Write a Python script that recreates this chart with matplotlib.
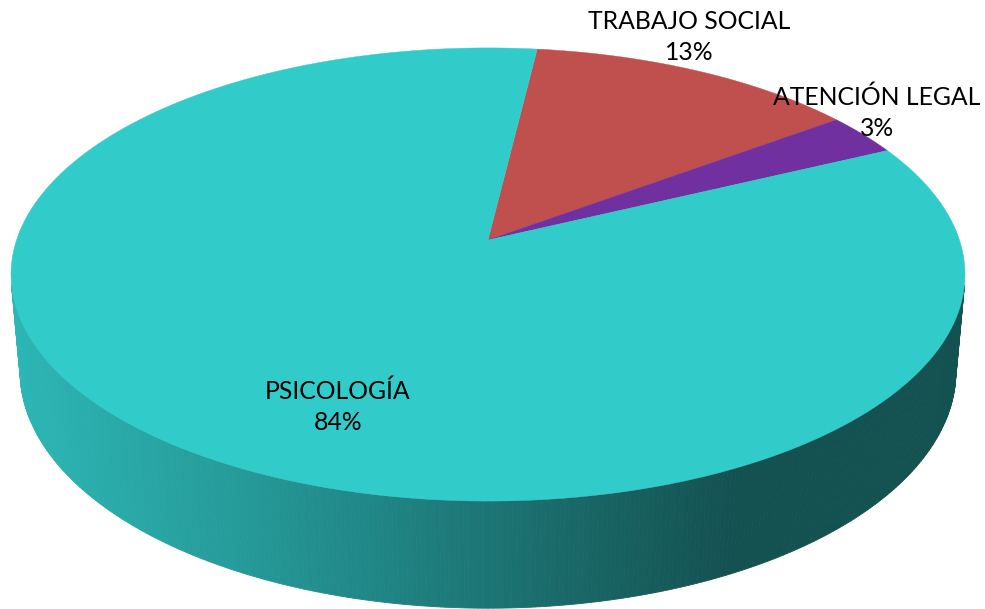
import numpy as np
import matplotlib
matplotlib.use('Agg')
import matplotlib.pyplot as plt
from matplotlib.patches import Polygon
from matplotlib.colors import to_rgb

categories = ['TRABAJO SOCIAL', 'ATENCIÓN LEGAL', 'PSICOLOGÍA']
values = [13, 3, 84]
colors = ['#C0504D', '#7030A0', '#31CBCA']
label_pos = [(689, 37), (877, 113), (338, 407)]

# 3D view parameters
alpha = np.radians(28.0)
D = 5.8
h = 0.235
start_deg = 6.9
cx, cy = 488, 240
width_px = 954

ca, sa = np.cos(alpha), np.sin(alpha)


def proj_raw(X, Y, Z):
    X, Y, Z = np.asarray(X, float), np.asarray(Y, float), np.asarray(Z, float)
    dx, dy, dz = X, Y + D * ca, Z - D * sa
    xc = dx
    yc = sa * dy + ca * dz
    zc = ca * dy - sa * dz
    return xc / zc, yc / zc


th = np.radians(np.linspace(0, 360, 2000))
sx, _ = proj_raw(np.sin(th), np.cos(th), np.zeros_like(th))
scale = width_px / (sx.max() - sx.min())


def proj(theta, z=0.0, r=1.0):
    theta = np.asarray(theta, float)
    X = r * np.sin(theta)
    Y = r * np.cos(theta)
    Z = np.full_like(X, z)
    a, b = proj_raw(X, Y, Z)
    return cx + scale * a, cy - scale * b


fig = plt.figure(figsize=(9.85, 6.09), dpi=100)
ax = fig.add_axes([0, 0, 1, 1])
ax.set_xlim(0, 985)
ax.set_ylim(609, 0)
ax.axis('off')

total = sum(values)
bounds = [start_deg]
for v in values:
    bounds.append(bounds[-1] + 360.0 * v / total)


def slice_index(deg):
    d = (deg - start_deg) % 360 + start_deg
    for i in range(len(values)):
        if bounds[i] <= d < bounds[i + 1]:
            return i
    return len(values) - 1


# gradient stops for side shading (by horizontal position)
stops_t = [0.0, 0.24, 0.41, 0.62, 0.76, 1.0]
stops_f = [0.90, 0.76, 0.64, 0.49, 0.40, 0.40]

# side wall
Cpos = np.array([0, -D * ca, D * sa])
degs = np.linspace(0, 360, 721)
for d0, d1 in zip(degs[:-1], degs[1:]):
    dm = np.radians((d0 + d1) / 2)
    P = np.array([np.sin(dm), np.cos(dm), -h / 2])
    n = np.array([np.sin(dm), np.cos(dm), 0])
    if np.dot(n, Cpos - P) <= 0:
        continue
    t0, t1 = np.radians(d0), np.radians(d1)
    xa, ya = proj([t0, t1], 0.0)
    xb, yb = proj([t1, t0], -h)
    pts = np.column_stack([np.r_[xa, xb], np.r_[ya, yb]])
    xm = pts[:, 0].mean()
    t = np.clip((xm - (cx - width_px / 2)) / width_px, 0, 1)
    f = np.interp(t, stops_t, stops_f)
    base = np.array(to_rgb(colors[slice_index((d0 + d1) / 2)]))
    col = base * f
    ax.add_patch(Polygon(pts, closed=True, facecolor=col, edgecolor=col,
                         linewidth=0.6, zorder=1))

# top face slices
for i in range(len(values)):
    tt = np.radians(np.linspace(bounds[i], bounds[i + 1], 400))
    x, y = proj(tt, 0.0)
    x0, y0 = proj([0.0], 0.0, r=0.0)
    pts = np.column_stack([np.r_[x0, x], np.r_[y0, y]])
    ax.add_patch(Polygon(pts, closed=True, facecolor=colors[i],
                         edgecolor=colors[i], linewidth=0.3, zorder=2))

for cat, v, (lx, ly) in zip(categories, values, label_pos):
    ax.text(lx, ly, f"{cat}\n{v}%", ha='center', va='center',
            fontsize=17.8, family=['Lato', 'DejaVu Sans'], color='black',
            linespacing=1.4, zorder=5)

fig.savefig('out.png', dpi=100)
